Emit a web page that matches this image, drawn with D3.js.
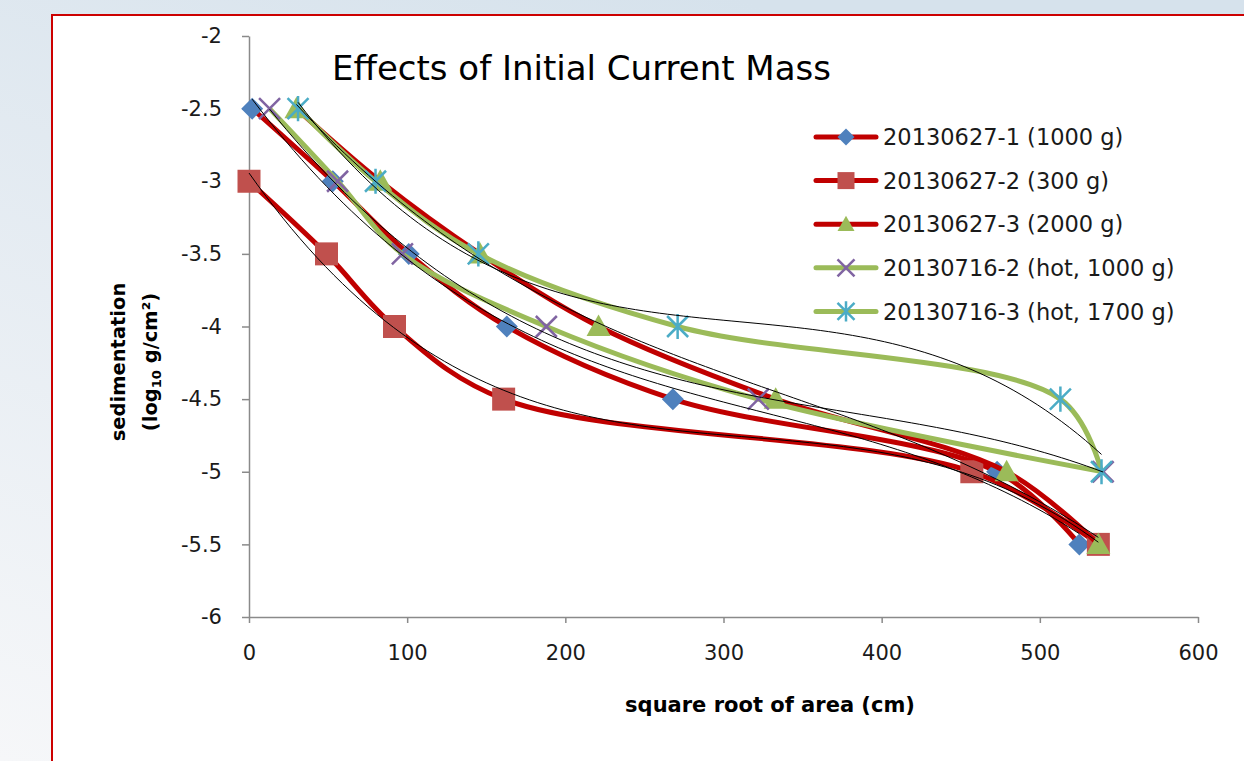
<!DOCTYPE html>
<html>
<head>
<meta charset="utf-8">
<script src="https://cdn.jsdelivr.net/npm/d3@7"></script>
<style>
  body { margin: 0; overflow: hidden; }
  svg { display: block; font-family: "DejaVu Sans", sans-serif; }
</style>
</head>
<body>
<script>
// data
let seriesNames = ["20130627-1 (1000 g)", "20130627-2 (300 g)", "20130627-3 (2000 g)",
                   "20130716-2 (hot, 1000 g)", "20130716-3 (hot, 1700 g)"];
let s1x = [2, 53, 101, 163, 268, 473, 525];
let s1y = [-2.5, -3, -3.5, -4, -4.5, -5, -5.5];
let s2x = [0, 49, 92, 161, 457, 537];
let s2y = [-3, -3.5, -4, -4.5, -5, -5.5];
let s3x = [30, 83, 146, 221, 333, 479, 537];
let s3y = [-2.5, -3, -3.5, -4, -4.5, -5, -5.5];
let s4x = [13, 56, 97, 188, 322, 540];
let s4y = [-2.5, -3, -3.5, -4, -4.5, -5];
let s5x = [31, 80, 145, 271, 513, 539];
let s5y = [-2.5, -3, -3.5, -4, -4.5, -5];
let xTicks = [0, 100, 200, 300, 400, 500, 600];
let yTicks = [-2, -2.5, -3, -3.5, -4, -4.5, -5, -5.5, -6];

let width = 1244, height = 761;

let svg = d3.select("body").append("svg")
    .attr("width", width).attr("height", height);

// slide background + red frame
let defs = svg.append("defs");
let grad = defs.append("linearGradient").attr("id", "bg")
    .attr("x1", "0").attr("y1", "1").attr("x2", "0.6").attr("y2", "0");
grad.append("stop").attr("offset", "0").attr("stop-color", "#f6f7f9");
grad.append("stop").attr("offset", "1").attr("stop-color", "#d6e2ec");
svg.append("rect").attr("width", width).attr("height", height).attr("fill", "url(#bg)");
svg.append("rect").attr("x", 52).attr("y", 15).attr("width", 1210).attr("height", 760)
    .attr("fill", "#fff").attr("stroke", "#cc0000").attr("stroke-width", 2);

let x = d3.scaleLinear().domain([0, 600]).range([249, 1198]);
let y = d3.scaleLinear().domain([-6, -2]).range([617, 36]);

// axes
let xAxis = d3.axisBottom(x).tickValues(xTicks).tickSize(6).tickPadding(22).tickSizeOuter(0);
let yAxis = d3.axisLeft(y).tickValues(yTicks).tickSize(7).tickPadding(20).tickSizeOuter(0)
    .tickFormat((d) => d);

let gy = svg.append("g").attr("transform", "translate(249,0)").call(yAxis);
let gx = svg.append("g").attr("transform", "translate(0,617)").call(xAxis);
[gx, gy].forEach((g) => {
  g.selectAll("path, line").attr("stroke", "#8a8a8a").attr("stroke-width", 1.5);
  g.selectAll("text").attr("font-size", 21).attr("fill", "#1a1a1a")
    .attr("font-family", "DejaVu Sans, sans-serif");
});

// titles
svg.append("text").attr("x", 332).attr("y", 80).attr("font-size", 34).attr("fill", "#000")
    .text("Effects of Initial Current Mass");
svg.append("text").attr("x", 770).attr("y", 712).attr("text-anchor", "middle")
    .attr("font-size", 21).attr("font-weight", "bold").attr("fill", "#000")
    .text("square root of area (cm)");
let yt = svg.append("text").attr("transform", "translate(125,362) rotate(-90)")
    .attr("text-anchor", "middle").attr("font-size", 19.5).attr("font-weight", "bold").attr("fill", "#000");
yt.append("tspan").attr("x", 0).attr("dy", 0).text("sedimentation");
let yt2 = yt.append("tspan").attr("x", 0).attr("dy", 32);
yt2.append("tspan").text("(log");
yt2.append("tspan").attr("font-size", 13).attr("dy", 4).text("10");
yt2.append("tspan").attr("dy", -4).text(" g/cm²)");

// marker shapes
function markerPath(kind, r) {
  let p = d3.path();
  if (kind === "diamond") {
    p.moveTo(0, -r); p.lineTo(r, 0); p.lineTo(0, r); p.lineTo(-r, 0); p.closePath();
  } else if (kind === "square") {
    p.rect(-r, -r, 2 * r, 2 * r);
  } else if (kind === "triangle") {
    p.moveTo(0, -r); p.lineTo(r, r * 0.8); p.lineTo(-r, r * 0.8); p.closePath();
  } else if (kind === "x") {
    p.moveTo(-r, -r); p.lineTo(r, r); p.moveTo(r, -r); p.lineTo(-r, r);
  } else {
    p.moveTo(-r, -r); p.lineTo(r, r); p.moveTo(r, -r); p.lineTo(-r, r);
    p.moveTo(0, -r * 1.2); p.lineTo(0, r * 1.2);
  }
  return p.toString();
}

let series = [
  { name: seriesNames[0], xs: s1x, ys: s1y, line: "#c00000", marker: "diamond", color: "#4f81bd", r: 11 },
  { name: seriesNames[1], xs: s2x, ys: s2y, line: "#c00000", marker: "square", color: "#c0504d", r: 11.5 },
  { name: seriesNames[2], xs: s3x, ys: s3y, line: "#c00000", marker: "triangle", color: "#9bbb59", r: 12 },
  { name: seriesNames[3], xs: s4x, ys: s4y, line: "#9bbb59", marker: "x", color: "#8064a2", r: 10.5 },
  { name: seriesNames[4], xs: s5x, ys: s5y, line: "#9bbb59", marker: "star", color: "#4bacc6", r: 10.5 }
];

let smooth = d3.line().x((d) => x(d[0])).y((d) => y(d[1])).curve(d3.curveCatmullRom.alpha(0.5));

function drawMarker(g, s, px, py, r) {
  let stroked = s.marker === "x" || s.marker === "star";
  g.append("path").attr("d", markerPath(s.marker, r))
    .attr("transform", "translate(" + px + "," + py + ")")
    .attr("fill", stroked ? "none" : s.color)
    .attr("stroke", stroked ? s.color : "none")
    .attr("stroke-width", 2.5);
}

let plot = svg.append("g");
series.forEach((s) => {
  let pts = s.xs.map((v, i) => [v, s.ys[i]]);
  plot.append("path").attr("d", smooth(pts)).attr("fill", "none")
    .attr("stroke", s.line).attr("stroke-width", 5).attr("stroke-linejoin", "round");
  pts.forEach((d) => drawMarker(plot, s, x(d[0]), y(d[1]), s.r));
});

// polynomial trendlines (order 3 least squares)
function polyfit(xs, ys, deg) {
  let n = deg + 1, A = [], b = [];
  for (let i = 0; i < n; i++) {
    A.push(new Array(n).fill(0)); b.push(0);
  }
  xs.forEach((xv, k) => {
    let t = xv / 600;
    for (let i = 0; i < n; i++) {
      for (let j = 0; j < n; j++) A[i][j] += Math.pow(t, i + j);
      b[i] += ys[k] * Math.pow(t, i);
    }
  });
  for (let c = 0; c < n; c++) {
    let piv = c;
    for (let r = c + 1; r < n; r++) if (Math.abs(A[r][c]) > Math.abs(A[piv][c])) piv = r;
    [A[c], A[piv]] = [A[piv], A[c]]; [b[c], b[piv]] = [b[piv], b[c]];
    for (let r = 0; r < n; r++) {
      if (r === c) continue;
      let f = A[r][c] / A[c][c];
      for (let j = c; j < n; j++) A[r][j] -= f * A[c][j];
      b[r] -= f * b[c];
    }
  }
  let coef = b.map((v, i) => v / A[i][i]);
  return (xv) => coef.reduce((acc, c, i) => acc + c * Math.pow(xv / 600, i), 0);
}

let straight = d3.line().x((d) => x(d[0])).y((d) => y(d[1]));
series.forEach((s) => {
  let f = polyfit(s.xs, s.ys, 3);
  let lo = d3.min(s.xs), hi = d3.max(s.xs);
  let pts = d3.range(0, 101).map((i) => {
    let xv = lo + (hi - lo) * i / 100;
    return [xv, f(xv)];
  });
  plot.append("path").attr("d", straight(pts)).attr("fill", "none")
    .attr("stroke", "#000").attr("stroke-width", 1);
});

// legend
let legend = svg.append("g");
series.forEach((s, i) => {
  let ly = 137 + i * 43.6;
  legend.append("line").attr("x1", 816).attr("x2", 876).attr("y1", ly).attr("y2", ly)
    .attr("stroke", s.line).attr("stroke-width", 5).attr("stroke-linecap", "round");
  drawMarker(legend, s, 846, ly, 8.5);
  legend.append("text").attr("x", 883).attr("y", ly).attr("dy", "0.36em")
    .attr("font-size", 22.5).attr("fill", "#1a1a1a").text(s.name);
});
</script>
</body>
</html>
